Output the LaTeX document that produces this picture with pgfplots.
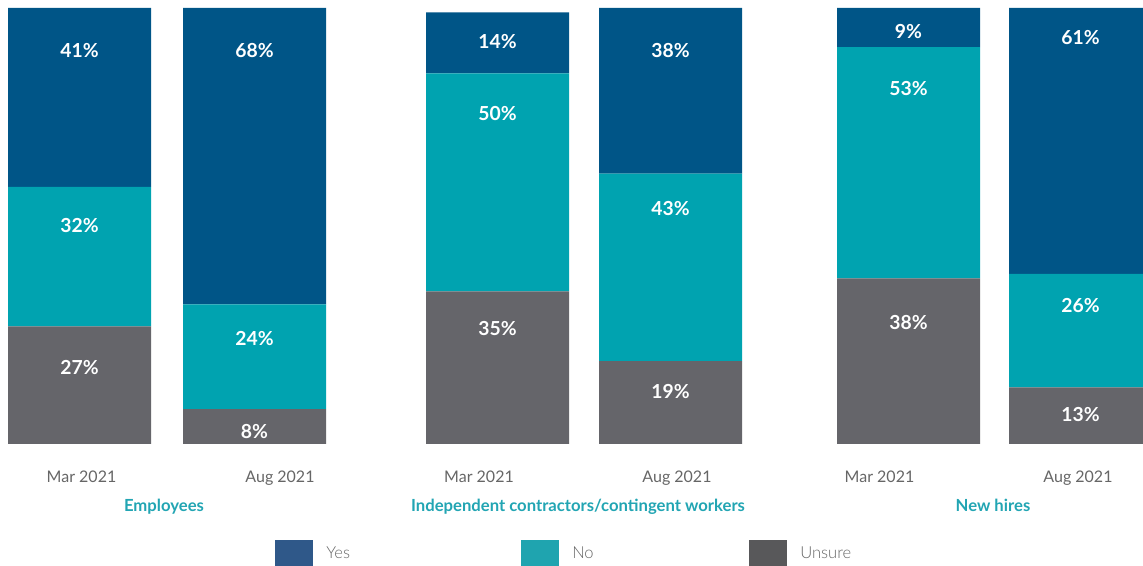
\documentclass[border=0pt]{standalone}
\usepackage{fontspec}
\setmainfont{Lato}
\gdef\lightname{Lato}
\IfFontExistsTF{Lato Light}{\gdef\lightname{Lato Light}}{}
\expandafter\newfontfamily\expandafter\lightfont\expandafter{\lightname}
\usepackage{pgfplots}
\usepackage{pgfplotstable}
\pgfplotsset{compat=1.18}
\definecolor{yesc}{HTML}{005587}
\definecolor{noc}{HTML}{00A3B0}
\definecolor{unc}{HTML}{65656A}
\definecolor{yesl}{HTML}{2F5889}
\definecolor{nol}{HTML}{1FA4AF}
\definecolor{unl}{HTML}{58585A}
\definecolor{tickc}{HTML}{666666}
\definecolor{grpc}{HTML}{22A5B3}
\tikzset{ticklab/.style={anchor=base, text=tickc, font=\fontsize{12}{14}\selectfont},
  grplab/.style={anchor=base, text=grpc, font=\bfseries\fontsize{12.5}{15}\selectfont}}

\pgfplotstableread{
x unsure no yes
79.5 27 32 41
254.5 8 24 68
497.5 35 50 14
670.5 19 43 38
908.5 38 53 9
1080.5 13 26 61
}\bardata

\pgfplotstableread{
x y lab
79.5 90.2 41
79.5 50.0 32
79.5 17.5 27
254.5 90.2 68
254.5 24.1 24
254.5 2.8 8
497.5 92.3 14
497.5 75.7 50
497.5 26.4 35
670.5 90.2 38
670.5 53.9 43
670.5 12.0 19
908.5 94.5 9
908.5 81.5 53
908.5 27.8 38
1080.5 93.2 61
1080.5 31.7 26
1080.5 6.7 13
}\labdata

\begin{document}
\begin{tikzpicture}
\path[use as bounding box] (0pt,0pt) rectangle (857.25pt,424.5pt);
\begin{axis}[
  at={(0pt,91.5pt)}, anchor=south west,
  scale only axis, width=857.25pt, height=327pt,
  xmin=0, xmax=1143, ymin=0, ymax=100,
  ybar stacked, bar width=107.25pt,
  axis line style={draw=none}, tick style={draw=none},
  xtick=\empty, ytick=\empty,
  clip=false,
  legend columns=3,
  reverse legend,
  legend cell align=left,
  legend style={at={(0.2406,-0.25)}, anchor=west, draw=none, fill=none,
    inner sep=0pt, nodes={inner sep=0pt, text depth=0pt},
    font=\lightfont\fontsize{12.4}{15}\selectfont, text=tickc},
]
\addplot[fill=unc, draw=none, legend image code/.code={\fill[unl] (0pt,-9.75pt) rectangle (28.5pt,9.75pt);}] table[x=x,y=unsure]{\bardata};
\addlegendentry{\hspace*{9.75pt}Unsure}
\addplot[fill=noc, draw=none, legend image code/.code={\fill[nol] (0pt,-9.75pt) rectangle (28.5pt,9.75pt);}] table[x=x,y=no]{\bardata};
\addlegendentry{\hspace*{9.75pt}\makebox[132.75pt][l]{No}}
\addplot[fill=yesc, draw=none, legend image code/.code={\fill[yesl] (0pt,-9.75pt) rectangle (28.5pt,9.75pt);}] table[x=x,y=yes]{\bardata};
\addlegendentry{\hspace*{9.75pt}\makebox[146.25pt][l]{Yes}}

\node[ticklab] at (axis cs:81.5,-8.72) {Mar 2021};
\node[ticklab] at (axis cs:280,-8.72) {Aug 2021};
\node[ticklab] at (axis cs:479,-8.72) {Mar 2021};
\node[ticklab] at (axis cs:677,-8.72) {Aug 2021};
\node[ticklab] at (axis cs:879.5,-8.72) {Mar 2021};
\node[ticklab] at (axis cs:1078,-8.72) {Aug 2021};
\node[grplab] at (axis cs:164,-15.37) {Employees};
\node[grplab] at (axis cs:578,-15.37) {Independent contractors/contingent workers};
\node[grplab] at (axis cs:993,-15.37) {New hires};
\end{axis}

\begin{axis}[
  at={(0pt,91.5pt)}, anchor=south west,
  scale only axis, width=857.25pt, height=327pt,
  xmin=0, xmax=1143, ymin=0, ymax=100,
  hide axis, clip=false,
]
\addplot[only marks, mark=*, mark size=0pt, mark options={draw=none, fill=none},
  point meta=explicit symbolic,
  nodes near coords={\pgfplotspointmeta\%},
  nodes near coords style={anchor=center, text=white, font=\bfseries\fontsize{14.5}{17}\selectfont}]
  table[x=x, y=y, meta=lab]{\labdata};
\end{axis}
\end{tikzpicture}
\end{document}
